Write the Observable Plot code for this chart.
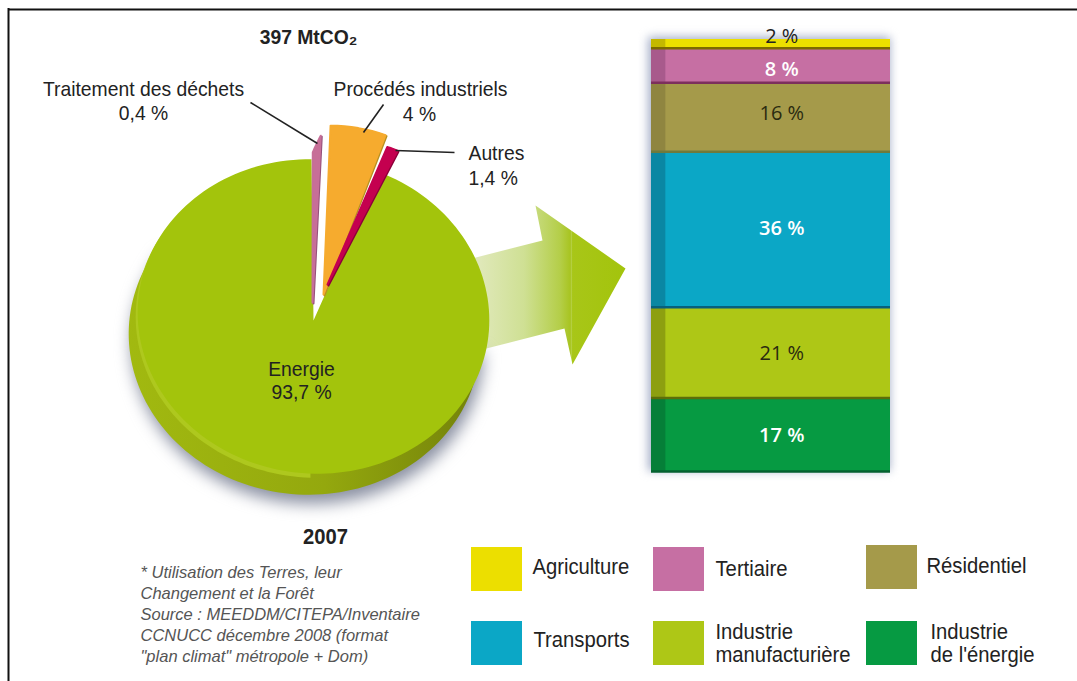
<!DOCTYPE html>
<html lang="fr">
<head>
<meta charset="utf-8">
<script src="https://cdn.jsdelivr.net/npm/d3@7"></script>
<script src="https://cdn.jsdelivr.net/npm/@observablehq/plot@0.6"></script>
<style>
  html, body { margin: 0; padding: 0; background: #fff; }
  #stage { position: relative; width: 1077px; height: 681px; overflow: hidden; }
  #stage > svg { position: absolute; left: 0; top: 0; }
</style>
</head>
<body>
<div id="stage"></div>
<script>
// ---- pie data (2007, 397 MtCO2)
const pieNames  = ["Traitement des déchets", "Procédés industriels", "Autres", "Energie"];
const pieShares = [0.4, 4, 1.4, 93.7];
const pieColors = ["#c76f98", "#f6ab2e", "#c4004f", "#a3c40c"];
const pieEdges  = ["#96507a", "#b89020", "#8c0038", "#8a9f0e"];

// ---- stacked bar data, bottom to top
const sectors = ["Industrie de l'énergie", "Industrie manufacturière", "Transports", "Résidentiel", "Tertiaire", "Agriculture"];
const sectorShares = [17, 21, 36, 16, 8, 2];
const sectorColors = ["#069a42", "#aec716", "#0ba7c6", "#a59a4a", "#c66fa3", "#ecdf00"];
const sectorSides  = ["#057f38", "#8d9f10", "#0a87a3", "#8f8540", "#a85a8c", "#c4b800"];
const sectorLines  = ["#046030", "#5c6e0a", "#08607c", "#6e7a3c", "#7c2f5c", "#7c6a00"];
const sectorLabelColors = ["#ffffff", "#2a2a10", "#ffffff", "#2a2a10", "#ffffff", "#222222"];
const sectorLabelNudge  = [-0.3, -0.2, 0.3, 0.9, -0.9, 1.6];

// ---- layout helpers for the tilted pie
const cx = 313, cy = 316, rx = 176, ry = 157, tiltDeg = 6, tilt = tiltDeg * Math.PI / 180;
function ellipsePoint(deg, ox = cx, oy = cy) {
  const t = deg * Math.PI / 180;
  const u = rx * Math.sin(t), v = -ry * Math.cos(t);
  return [ox + u * Math.cos(tilt) - v * Math.sin(tilt), oy + u * Math.sin(tilt) + v * Math.cos(tilt)];
}
function arcWedge(name, a0, a1, apex) {
  const n = Math.max(2, Math.ceil((a1 - a0) / 2));
  const pts = d3.range(n + 1).map(i => ellipsePoint(a0 + (a1 - a0) * i / n));
  return [apex, ...pts].map(([x, y]) => ({name, x, y}));
}
const deg = s => s * 3.6;
const shifted = (rows, dx, dy) => rows.map(d => ({...d, x: d.x + dx, y: d.y + dy}));

// Energie ends at the top of the pie and its sweep comes from its share.
const energyEnd = 360 - tiltDeg;
const energyStart = energyEnd - deg(pieShares[3]);
const energyApex = [cx, 320];
const energyRows = arcWedge(pieNames[3], energyStart, energyEnd, energyApex);
const shadowRows = arcWedge("shadow", 85, 300, [cx, 380]);
const sideRows = arcWedge("side", 95, 305, energyApex);
const rimRows = arcWedge("rim", 175, 300, energyApex);

// pulled-out slices: sweep comes from the share, the rest is drawing layout
const pulled = [
  {i: 0, apex: [312, 302], from: 0.1, spread: 1.9,  len0: 150, len1: 167},
  {i: 1, apex: [323, 294], from: 2.4, spread: 1.31, len0: 169, len1: 171},
  {i: 2, apex: [327, 284], from: 23.5, spread: 0.81, len0: 150, len1: 151}
].map(p => {
  const sweep = deg(pieShares[p.i]) * p.spread;
  const n = 8;
  const outer = d3.range(n + 1).map(k => {
    const f = k / n, a = (p.from + sweep * f) * Math.PI / 180, L = p.len0 + (p.len1 - p.len0) * f;
    return {name: pieNames[p.i], x: p.apex[0] + L * Math.sin(a), y: p.apex[1] - L * Math.cos(a)};
  });
  return {...p, rows: [{name: pieNames[p.i], x: p.apex[0], y: p.apex[1]}, ...outer]};
});

function blur(px) {
  return (index, scales, values, dims, ctx, next) => {
    const g = next(index, scales, values, dims, ctx);
    g.style.filter = `blur(${px}px)`;
    return g;
  };
}
function narrow(index, scales, values, dims, ctx, next) {
  const g = next(index, scales, values, dims, ctx);
  g.classList.add("narrow");
  return g;
}

function defs() {
  const ns = "http://www.w3.org/2000/svg";
  const g = document.createElementNS(ns, "g");
  g.innerHTML = `<defs>
    <linearGradient id="arrowFill" gradientUnits="userSpaceOnUse" x1="480" y1="0" x2="625" y2="0">
      <stop offset="0" stop-color="#dfe8b8"/><stop offset="0.3" stop-color="#cfe094"/>
      <stop offset="0.55" stop-color="#b4ce48"/><stop offset="0.62" stop-color="#a8c420"/>
      <stop offset="0.625" stop-color="#b8d24e"/><stop offset="0.635" stop-color="#a8c618"/>
      <stop offset="1" stop-color="#a3c40c"/>
    </linearGradient>
    <linearGradient id="lip" gradientUnits="userSpaceOnUse" x1="120" y1="0" x2="490" y2="0">
      <stop offset="0" stop-color="#a2ba10"/><stop offset="0.55" stop-color="#94a80e"/><stop offset="1" stop-color="#717f0a"/>
    </linearGradient>
  </defs>`;
  return g;
}

// arrow outline is decoration, not data
const arrowOutline = [[440, 266], [542, 240], [535, 205], [625, 268], [572, 364], [564, 328], [470, 352]].map(([x, y]) => ({x, y}));

// annotation and legend tables
const sans = "'Liberation Sans',sans-serif";
const pieLabels = [
  {text: "Traitement des déchets", x: 143, y: 89},
  {text: "0,4 %", x: 143, y: 113},
  {text: "Procédés industriels", x: 420, y: 89},
  {text: "4 %", x: 419, y: 114},
  {text: "Energie", x: 301, y: 369},
  {text: "93,7 %", x: 301, y: 392}
];
const sideLabels = [
  {text: "Autres", x: 468, y: 153},
  {text: "1,4 %", x: 468, y: 178}
];
const leaders = [
  {x1: 250, y1: 102, x2: 317, y2: 143},
  {x1: 383, y1: 104, x2: 363, y2: 132},
  {x1: 395, y1: 150, x2: 454, y2: 152}
];
const legendCells = [
  {key: "Agriculture", x: 471, y: 547},
  {key: "Tertiaire", x: 653, y: 547},
  {key: "Résidentiel", x: 866, y: 545},
  {key: "Transports", x: 471, y: 621},
  {key: "Industrie manufacturière", x: 653, y: 621},
  {key: "Industrie de l'énergie", x: 866, y: 621}
];
const legendTexts = [
  {text: "Agriculture", x: 532, y: 566},
  {text: "Tertiaire", x: 715, y: 568},
  {text: "Résidentiel", x: 926, y: 565},
  {text: "Transports", x: 533, y: 639},
  {text: "Industrie", x: 715, y: 631},
  {text: "manufacturière", x: 715, y: 654},
  {text: "Industrie", x: 930, y: 631},
  {text: "de l'énergie", x: 930, y: 654}
];
const noteLines = [
  "* Utilisation des Terres, leur",
  "Changement et la Forêt",
  "Source : MEEDDM/CITEPA/Inventaire",
  "CCNUCC décembre 2008 (format",
  "\"plan climat\" métropole + Dom)"
];
const noteY = [572, 593, 614, 635, 656];

const colorOf = new Map(sectors.map((s, i) => [s, sectorColors[i]]));

const main = Plot.plot({
  width: 1077, height: 681, margin: 0,
  style: {background: "transparent", overflow: "visible"},
  x: {domain: [0, 1077], range: [0, 1077], axis: null},
  y: {domain: [0, 681], range: [0, 681], axis: null},
  marks: [
    defs,
    // frame
    Plot.ruleY([9], {x1: 8, x2: 1077, stroke: "#111", strokeWidth: 2}),
    Plot.ruleX([8], {y1: 8, y2: 681, stroke: "#111", strokeWidth: 2}),
    // arrow
    Plot.line(arrowOutline, {x: "x", y: "y", fill: "url(#arrowFill)", stroke: "none", curve: "linear-closed"}),
    // pie shadow, side and top
    Plot.line(shifted(shadowRows, -6, 30), {x: "x", y: "y", fill: "#8a90a2", stroke: "none", curve: "linear-closed", render: blur(8)}),
    Plot.line(shifted(sideRows, -9, 21), {x: "x", y: "y", fill: "url(#lip)", stroke: "none", curve: "linear-closed"}),
    Plot.line(shifted(rimRows, -2, 4), {x: "x", y: "y", fill: "#aec81e", stroke: "none", curve: "linear-closed"}),
    // pie slices
    Plot.line(energyRows, {x: "x", y: "y", fill: pieColors[3], stroke: "none", curve: "linear-closed"}),
    ...pulled.flatMap(p => [
      Plot.line(shifted(p.rows, 1, 1), {x: "x", y: "y", fill: pieEdges[p.i], stroke: pieEdges[p.i], strokeWidth: 2, strokeLinejoin: "round", curve: "linear-closed"}),
      Plot.line(p.rows, {x: "x", y: "y", fill: pieColors[p.i], stroke: pieColors[p.i], strokeWidth: 2, strokeLinejoin: "round", curve: "linear-closed"})
    ]),
    // leaders
    Plot.link(leaders, {x1: "x1", y1: "y1", x2: "x2", y2: "y2", stroke: "#222", strokeWidth: 1.6}),
    // pie texts
    Plot.text(["397 MtCO₂"], {x: 308, y: 37, fontFamily: sans, fontWeight: "bold", fontSize: 21, fill: "#222", render: narrow}),
    Plot.text(["2007"], {x: 325, y: 536, fontFamily: sans, fontWeight: "bold", fontSize: 22, fill: "#222", render: narrow}),
    Plot.text(pieLabels, {x: "x", y: "y", text: "text", fontFamily: sans, fontSize: 21, fill: "#222", render: narrow}),
    Plot.text(sideLabels, {x: "x", y: "y", text: "text", textAnchor: "start", fontFamily: sans, fontSize: 21, fill: "#222", render: narrow}),
    // note
    Plot.text(noteLines, {x: 140, y: (d, i) => noteY[i], text: d => d, textAnchor: "start", fontFamily: sans, fontStyle: "italic", fontSize: 16.5, fill: "#555"}),
    // legend
    Plot.rect(legendCells, {x1: "x", x2: d => d.x + 51, y1: "y", y2: d => d.y + 44, fill: d => colorOf.get(d.key)}),
    Plot.text(legendTexts, {x: "x", y: "y", text: "text", textAnchor: "start", fontFamily: sans, fontSize: 22, fill: "#222", render: narrow})
  ]
});
document.getElementById("stage").append(main);
main.querySelectorAll(".narrow text").forEach(t => {
  t.setAttribute("textLength", (t.getComputedTextLength() * 0.92).toFixed(1));
  t.setAttribute("lengthAdjust", "spacingAndGlyphs");
});

// ---- stacked bar, drawn on its own percent scale
const tops = d3.cumsum(sectorShares);
const rows = sectors.map((name, i) => ({
  name, share: sectorShares[i], y1: tops[i] - sectorShares[i], y2: tops[i],
  side: sectorSides[i], line: sectorLines[i], ink: sectorLabelColors[i],
  mid: tops[i] - sectorShares[i] / 2 + sectorLabelNudge[i]
}));
const pad = 30;
const labelStyle = {x: 0.545, y: "mid", text: d => `${d.share} %`, fill: "ink", fontFamily: "'Open Sans',sans-serif", fontSize: 20};
const bar = Plot.plot({
  width: 239 + 2 * pad, height: 432 + 2 * pad, margin: pad,
  style: {background: "transparent", overflow: "visible"},
  x: {domain: [0, 1], axis: null},
  y: {domain: [0, 100], axis: null},
  color: {domain: sectors, range: sectorColors},
  marks: [
    Plot.rect([0], {x1: -0.012, x2: 1.0, y1: 0, y2: 100.5, fill: "#a4aec8", render: blur(5)}),
    Plot.rectY(rows, {x1: 0, x2: 1, y1: "y1", y2: "y2", fill: "name"}),
    Plot.rectY(rows, {x1: 0, x2: 0.06, y1: "y1", y2: "y2", fill: "side"}),
    Plot.ruleY(rows, {y: "y1", x1: 0, x2: 1, stroke: "line", strokeWidth: 2.5}),
    Plot.text(rows.filter(d => d.ink !== "#ffffff"), labelStyle),
    Plot.text(rows.filter(d => d.ink === "#ffffff"), {...labelStyle, fontWeight: 600})
  ]
});
bar.style.left = (651 - pad) + "px";
bar.style.top = (39 - pad) + "px";
document.getElementById("stage").append(bar);
</script>
</body>
</html>
